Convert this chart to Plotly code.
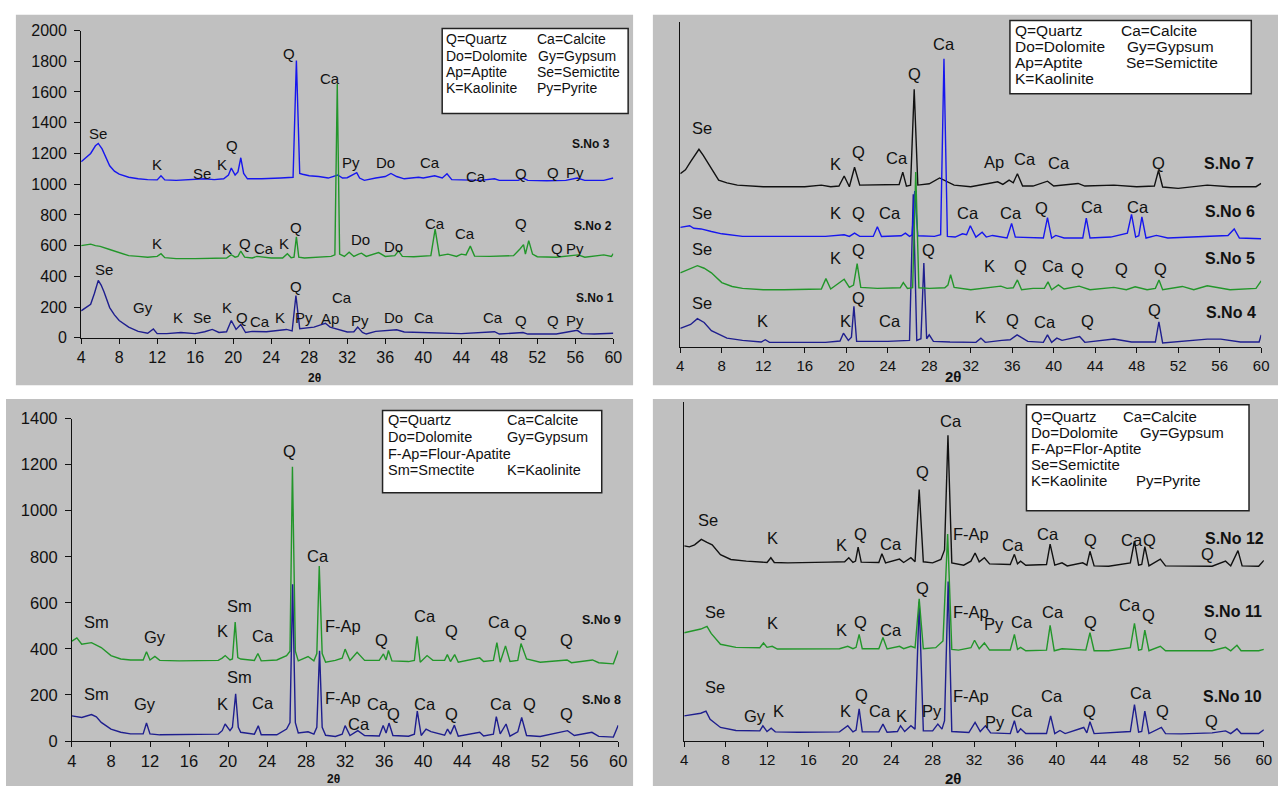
import plotly.graph_objects as go

W, H = 1287, 795

# ---------------- DATA ----------------
# Top-left panel (intensity counts)
tl_sno3 = [(4,1146),(4.5,1170),(5,1200),(5.5,1250),(5.8,1265),(6.2,1230),(6.6,1180),(7.0,1120),(7.5,1085),(8,1065),(9,1045),(10,1035),(11,1030),(12,1028),(12.4,1055),(12.8,1028),(14,1025),(16,1030),(17,1035),(18,1030),(19,1035),(19.5,1060),(19.8,1105),(20.2,1060),(20.5,1080),(20.8,1172),(21.1,1070),(21.5,1035),(23,1035),(25,1040),(26.3,1045),(26.65,1805),(27.0,1070),(27.3,1065),(28,1055),(29,1050),(30,1040),(31,1060),(31.5,1040),(32,1042),(33.0,1075),(33.3,1040),(33.8,1025),(35,1040),(36,1050),(36.6,1070),(37.2,1050),(38,1035),(39.5,1045),(40,1040),(41.2,1055),(42,1040),(42.5,1068),(43,1030),(44,1028),(46,1025),(47.5,1035),(48,1025),(50,1025),(50.5,1040),(51,1025),(53,1022),(55,1025),(56.2,1040),(57,1025),(59,1025),(60,1040)]
tl_sno2 = [(4,600),(4.5,605),(5,610),(5.5,600),(6,595),(7,575),(8,554),(9,535),(10,530),(11,525),(12,530),(12.4,548),(12.8,522),(14,516),(16,516),(18,518),(19.3,520),(19.8,541),(20.2,525),(20.5,530),(20.8,565),(21.2,525),(22,520),(22.5,530),(24,520),(25.2,520),(25.7,548),(26.1,522),(26.4,525),(26.65,658),(26.9,525),(27.5,520),(29,525),(30.3,530),(30.7,540),(30.95,1652),(31.2,545),(31.7,530),(32.2,558),(32.7,530),(33.2,545),(33.5,551),(34,530),(35.3,555),(36,530),(37,535),(37.4,566),(37.8,530),(39,528),(40.8,535),(41.25,707),(41.7,535),(42.6,545),(43.5,530),(44.0,545),(44.5,540),(44.95,597),(45.4,532),(47,530),(49.5,535),(50.2,580),(50.55,607),(50.75,545),(51.1,633),(51.5,545),(52,528),(54,525),(56.3,540),(57,525),(59,540),(59.8,530),(60,548)]
tl_sno1 = [(4,176),(4.5,195),(5,219),(5.4,290),(5.8,374),(6.1,344),(6.4,300),(7,197),(7.5,150),(8,113),(9,70),(10,42),(11,30),(11.6,58),(12,28),(13,28),(14.5,35),(16,28),(17,40),(17.8,55),(18.5,35),(19.3,40),(19.8,113),(20.3,55),(20.8,87),(21.3,35),(22,42),(23.5,40),(25,50),(25.6,55),(26.2,45),(26.6,276),(27,60),(27.5,62),(28.5,70),(29.2,85),(29.7,95),(30.2,70),(31,55),(32,38),(32.7,40),(33.1,70),(33.6,35),(34,25),(35,42),(36,48),(37.2,53),(38,38),(40,35),(42,32),(44,28),(47.5,40),(48,25),(50.5,35),(51,25),(54,25),(56.2,49),(56.7,28),(58,25),(60,30)]

# Top-right panel (relative intensity)
tr_sno7 = [(4,533),(4.5,545),(5,570),(5.5,595),(5.8,608),(6.2,590),(6.8,558),(7.7,513),(8.5,505),(9.5,498),(12,493),(14,493),(16,493),(17.6,498),(18.5,493),(19.3,495),(19.8,526),(20.3,493),(20.8,553),(21.3,498),(23,498),(25.1,500),(25.45,538),(25.8,495),(26.2,498),(26.55,793),(26.9,498),(28,502),(29,520),(30.4,498),(32,493),(34.6,508),(35.1,500),(35.7,513),(36.1,505),(36.5,533),(37,495),(38,495),(39.4,510),(40,495),(42.35,503),(43,495),(45.8,498),(48,493),(49.7,495),(50.1,543),(50.5,492),(52,488),(54.8,498),(57,493),(59.5,493),(60,503)]
tr_sno6 = [(4,368),(4.5,372),(4.9,373),(5.3,365),(6,363),(7,355),(8,348),(10,340),(14,340),(18,340),(19.8,345),(20.3,340),(20.8,350),(21.3,340),(22.6,340),(23.0,370),(23.4,340),(25.3,342),(25.7,350),(26.1,340),(26.35,345),(26.6,480),(26.9,342),(28.5,340),(29.1,345),(29.42,887),(29.75,340),(30.5,338),(31.2,348),(31.6,345),(31.96,373),(32.5,338),(33.1,353),(33.5,338),(34.1,343),(35.5,335),(35.94,380),(36.3,338),(39.0,335),(39.4,398),(39.8,335),(40.2,343),(41,335),(42.8,335),(43.14,396),(43.5,335),(45.5,338),(47.1,350),(47.5,408),(47.9,338),(48.2,342),(48.5,400),(48.9,335),(49.9,343),(51,335),(56.8,343),(57.4,363),(57.9,335),(60,333)]
tr_sno5 = [(4,228),(4.5,235),(5,240),(5.65,250),(6.3,242),(7,228),(8,198),(9,186),(10,180),(12,176),(14,176),(16,176),(17.6,178),(18.04,210),(18.5,178),(19.8,208),(20.3,183),(20.7,190),(21.05,256),(21.4,183),(23,180),(25.2,182),(25.5,198),(25.9,180),(26.4,182),(26.7,538),(27.0,182),(28,180),(29.5,182),(29.8,190),(30.06,222),(30.4,183),(32,176),(34.9,187),(35.5,180),(36.1,182),(36.5,206),(36.9,176),(38,180),(39.1,180),(39.45,200),(39.8,176),(40.45,191),(41,178),(42.45,187),(43.5,176),(45.8,183),(47,176),(47.85,185),(49,176),(49.8,180),(50.15,206),(50.5,176),(52.4,186),(53.5,176),(54.8,188),(57,176),(59.5,180),(60,203)]
tr_sno4 = [(4,57),(4.6,65),(5,69),(5.65,87),(6.3,75),(7,50),(7.5,42),(8.5,27),(10,20),(11.8,15),(12.2,22),(12.6,14),(15,14),(18,14),(19.4,18),(19.73,42),(20.2,20),(20.5,30),(20.74,125),(21.0,17),(22,17),(24,17),(26.1,20),(26.46,470),(26.8,20),(27.2,25),(27.48,258),(27.75,25),(28.0,37),(28.4,17),(30,15),(32.5,14),(32.98,27),(33.4,14),(35,20),(35.8,22),(36.47,37),(37,27),(37.5,17),(39,14),(39.4,37),(39.8,14),(40.3,27),(40.8,20),(42.5,32),(43,14),(45.8,24),(47.5,15),(49.8,15),(50.14,77),(50.5,12),(54.8,24),(56.1,24),(58,15),(59.8,15),(60,37)]

# Bottom-left panel (intensity counts)
bl_sno9 = [(4,434),(4.5,448),(5,420),(6,427),(7,406),(8,371),(9,356),(10,352),(11,352),(11.3,352),(11.64,388),(12.0,352),(12.5,367),(13,350),(15,348),(17,348),(19,350),(19.4,360),(19.71,371),(20.2,352),(20.45,356),(20.73,516),(21.0,362),(21.3,356),(22.7,350),(23.06,380),(23.4,348),(25,352),(26.0,371),(26.35,390),(26.6,1191),(26.9,390),(27.2,348),(28.2,367),(28.8,348),(29.1,380),(29.35,760),(29.65,380),(30,342),(31,350),(31.7,360),(32.0,399),(32.5,350),(33.23,385),(34,350),(35.5,350),(35.93,378),(36.2,352),(36.44,393),(36.8,348),(38.5,345),(39.1,350),(39.38,455),(39.7,342),(40.4,371),(41,350),(42.2,350),(42.48,375),(42.8,345),(43.23,375),(43.6,342),(45.8,361),(46.2,345),(47.2,350),(47.56,427),(47.9,342),(48.44,413),(48.9,345),(49.7,350),(50.03,423),(50.6,356),(52,342),(54.75,352),(55.2,340),(57.36,352),(58,340),(59.5,335),(60,393)]
bl_sno8 = [(4,109),(5,102),(6,115),(6.5,105),(7,81),(8,52),(9,38),(10,31),(11,31),(11.3,31),(11.64,78),(12.0,31),(13,27),(15,27),(17,27),(19,30),(19.4,45),(19.7,74),(20.2,45),(20.45,60),(20.78,205),(21.05,60),(21.3,38),(22.7,30),(23.1,66),(23.4,27),(25,27),(26.0,52),(26.35,80),(26.62,680),(26.9,80),(27.2,35),(28.2,40),(28.8,30),(29.1,60),(29.38,392),(29.65,60),(30,25),(31,20),(31.7,30),(32.0,67),(32.5,24),(33.3,45),(34,24),(35.5,22),(35.9,67),(36.2,35),(36.5,78),(36.9,24),(38.5,21),(39.1,30),(39.4,130),(39.8,24),(40.3,52),(40.8,41),(42.2,25),(42.5,52),(42.8,30),(43.2,69),(43.6,21),(45.8,38),(46.2,22),(47.2,30),(47.5,106),(47.9,31),(48.5,74),(48.9,21),(49.7,40),(50.1,102),(50.6,24),(52,20),(54.8,45),(55.5,24),(57.3,38),(58,20),(59.5,17),(60,69)]

# Bottom-right panel (relative intensity)
br_sno12 = [(4,575),(4.5,572),(5,578),(5.65,594),(6.2,585),(6.7,578),(7.5,549),(8.5,535),(10,530),(11.5,528),(12.0,526),(12.37,540),(12.7,526),(14,525),(16,525),(18,527),(19.5,528),(19.9,540),(20.3,526),(20.55,530),(20.8,571),(21.1,527),(22.8,526),(23.1,552),(23.45,525),(24.8,536),(25.2,526),(25.9,540),(26.3,528),(26.7,741),(27.1,528),(28,525),(28.8,535),(29.15,563),(29.48,901),(29.85,525),(31,518),(31.7,530),(32.1,554),(32.5,528),(33,540),(33.5,522),(35.5,520),(35.9,550),(36.2,522),(36.5,530),(37,518),(39.0,520),(39.35,580),(39.8,518),(40.5,525),(41,516),(42.5,525),(42.9,518),(43.2,559),(43.6,516),(45,515),(47.1,525),(47.5,589),(47.9,518),(48.2,520),(48.5,573),(48.9,516),(50,536),(50.5,516),(52,515),(55,515),(56.3,530),(56.8,516),(57.5,561),(57.9,516),(59.5,515),(60,532)]
br_sno11 = [(4,319),(4.5,322),(5,326),(5.6,330),(6.2,338),(6.6,317),(7.5,285),(9,276),(11.3,275),(11.66,289),(12,276),(12.5,279),(13,271),(16,271),(19,272),(19.8,279),(20.3,272),(20.6,276),(20.9,314),(21.2,272),(22.8,272),(23.2,305),(23.6,271),(24.8,279),(25.2,272),(25.9,279),(26.3,275),(26.7,419),(27.1,272),(28.3,275),(29.0,295),(29.45,610),(29.85,270),(30.5,268),(31.7,275),(32.05,297),(32.5,272),(33,289),(33.5,268),(35.5,268),(35.9,314),(36.2,270),(36.5,276),(37,266),(39.0,268),(39.35,341),(39.75,266),(40.5,272),(42.8,268),(43.2,319),(43.6,266),(45,266),(47.1,275),(47.5,347),(47.9,268),(48.2,270),(48.5,327),(48.9,266),(50,279),(50.5,266),(52,266),(55,266),(56.3,276),(56.8,266),(57.4,282),(57.8,266),(59.5,266),(60,270)]
br_sno10 = [(4,74),(4.5,76),(5,79),(5.6,82),(6.1,88),(6.5,64),(7.5,40),(9,31),(11.3,30),(11.6,45),(12,28),(12.4,38),(12.8,27),(15,26),(19,27),(19.8,45),(20.3,27),(20.6,32),(20.9,95),(21.2,27),(22.8,27),(23.2,50),(23.6,26),(24.6,28),(24.9,45),(25.3,28),(25.9,45),(26.3,35),(26.7,410),(27.1,30),(28,30),(28.5,50),(28.9,35),(29.15,60),(29.5,470),(29.85,28),(31.5,25),(32.1,55),(32.6,28),(33.1,45),(33.6,24),(35.5,22),(35.9,60),(36.2,24),(36.5,36),(37,22),(39.0,22),(39.4,74),(39.8,22),(40.3,31),(40.8,22),(42.6,40),(42.9,24),(43.2,57),(43.6,22),(45.8,26),(47.1,28),(47.5,107),(47.9,26),(48.2,28),(48.5,88),(48.9,22),(50.1,40),(50.5,22),(52,21),(55,24),(56.3,30),(56.8,22),(57.4,36),(57.8,22),(59.5,22),(60,33)]

x_ticks = [4, 8, 12, 16, 20, 24, 28, 32, 36, 40, 44, 48, 52, 56, 60]

# Peak labels (text, 2theta, intensity)
tl_labels = [("Q",25.85,1853),("Ca",30.2,1688),("Se",5.8,1327),("K",12.0,1125),("Se",16.7,1068),("K",18.8,1125),("Q",19.9,1253),("Py",32.4,1142),("Do",36.05,1138),("Ca",40.66,1142),("Ca",45.6,1047),("Q",50.3,1068),("Q",53.7,1078),("Py",56.0,1078),
             ("K",12.0,616),("K",19.3,580),("Q",21.2,616),("Ca",23.2,580),("K",25.3,616),("Q",26.6,718),("Do",33.4,643),("Do",36.9,597),("Ca",41.25,745),("Ca",44.4,682),("Q",50.3,745),("Q",54.1,580),("Py",56.0,580),
             ("Se",6.4,446),("Gy",10.55,197),("K",14.2,134),("Se",16.7,134),("K",19.3,197),("Q",20.9,134),("Ca",22.8,106),("K",24.95,134),("Q",26.6,336),("Py",27.5,134),("Ap",30.15,127),("Ca",31.5,265),("Py",33.3,113),("Do",36.9,134),("Ca",40.1,134),("Ca",47.3,134),("Q",50.3,113),("Q",53.7,113),("Py",56.0,113)]
tl_names = [("S.No 3",57.7,1263),("S.No 2",57.9,728),("S.No 1",58.1,261)]

tr_labels = [("Se",6.06,673),("K",19.0,563),("Q",21.16,601),("Ca",24.93,580),("Q",26.56,841),("Ca",29.42,931),("Ap",34.2,568),("Ca",37.2,578),("Ca",40.5,566),("Q",50.07,566),
             ("Se",6.06,413),("K",19.0,413),("Q",21.16,413),("Ca",24.24,413),("Ca",31.7,413),("Ca",35.84,413),("Q",38.85,428),("Ca",43.7,430),("Ca",48.16,430),
             ("Se",6.06,300),("K",19.0,275),("Q",21.16,298),("Q",27.9,298),("K",33.77,250),("Q",36.8,250),("Ca",39.97,250),("Q",42.26,240),("Q",46.5,240),("Q",50.3,240),
             ("Se",6.06,134),("K",11.94,79),("K",19.9,79),("Q",21.16,149),("Ca",24.24,79),("K",32.9,92),("Q",36.0,82),("Ca",39.2,77),("Q",43.3,79),("Q",49.7,112)]
tr_names = [("S.No 7",56.87,563),("S.No 6",56.97,418),("S.No 5",56.97,273),("S.No 4",57.13,107)]

bl_labels = [("Sm",6.53,516),("Gy",12.52,453),("K",19.44,477),("Sm",21.2,585),("Ca",23.6,455),("Q",26.27,1257),("Ca",29.25,805),("F-Ap",31.78,498),("Q",35.77,437),("Ca",40.16,543),("Q",42.86,479),("Ca",47.76,516),("Q",49.93,479),("Q",54.65,437),
             ("Sm",6.53,205),("Gy",11.5,162),("K",19.44,162),("Sm",21.2,279),("Ca",23.6,165),("F-Ap",31.78,187),("Ca",35.33,162),("Ca",33.46,73),("Q",36.95,116),("Ca",40.16,162),("Q",42.86,116),("Ca",48.0,162),("Q",50.94,162),("Q",54.65,116)]
bl_names = [("S.No 9",58.3,526),("S.No 8",58.3,180)]

br_labels = [("Se",6.32,650),("K",12.54,597),("K",19.22,578),("Q",21.03,611),("Ca",24.0,581),("Q",26.98,794),("Ca",29.8,942),("F-Ap",31.68,611),("Ca",35.75,578),("Ca",39.1,611),("Q",43.24,592),("Ca",47.28,592),("Q",48.94,592),("Q",54.6,550),
             ("Se",6.93,381),("K",12.54,348),("K",19.22,328),("Q",21.03,350),("Ca",24.0,328),("Q",26.98,450),("F-Ap",31.68,381),("Py",33.97,345),("Ca",36.6,350),("Ca",39.63,379),("Q",43.24,350),("Ca",47.02,400),("Q",48.81,371),("Q",54.8,316),
             ("Se",6.93,158),("Gy",10.85,74),("K",13.1,88),("K",19.6,88),("Q",21.1,136),("Ca",22.9,88),("K",24.96,74),("Py",27.98,88),("F-Ap",31.68,132),("Py",34.06,57),("Ca",36.6,88),("Ca",39.57,132),("Q",43.14,88),("Ca",48.17,143),("Q",50.2,88),("Q",54.9,60)]
br_names = [("S.No 12",57.2,596),("S.No 11",57.0,381),("S.No 10",57.0,132)]

# Legend box texts (text, left px, centre px)
tl_key = [("Q=Quartz",444,31),("Ca=Calcite",536,31),("Do=Dolomite",444,48),("Gy=Gypsum",537,48),("Ap=Aptite",444,64.3),("Se=Semictite",536,64.3),("K=Kaolinite",444,81),("Py=Pyrite",536,81)]
tr_key = [("Q=Quartz",1019,21.7),("Ca=Calcite",1126.7,21.7),("Do=Dolomite",1019,38.3),("Gy=Gypsum",1132.7,38.3),("Ap=Aptite",1019,54.3),("Se=Semictite",1131.7,54.3),("K=Kaolinite",1019,70.7)]
bl_key = [("Q=Quartz",385,421),("Ca=Calcite",505,421),("Do=Dolomite",385,438.3),("Gy=Gypsum",505,438.3),("F-Ap=Flour-Apatite",385,455),("Sm=Smectite",385,471.7),("K=Kaolinite",505,471.7)]
br_key = [("Q=Quartz",1035,416.7),("Ca=Calcite",1128.3,416.7),("Do=Dolomite",1035,433.3),("Gy=Gypsum",1145,433.3),("F-Ap=Flor-Aptite",1035,450),("Se=Semictite",1035,466),("K=Kaolinite",1035,482.7),("Py=Pyrite",1141.7,482.7)]

# ---------------- STYLE ----------------
BLUE, GREEN, NAVY, BLACK = "#1616ee", "#22962a", "#1e1e8e", "#111111"
GRAY = "#c0c0c0"
FONT = "Liberation Sans, Arial, sans-serif"

def px(x):
    return x / W

def py(y):
    return 1 - y / H

fig = go.Figure()

def add_series(pairs, color, ax):
    xs = [p[0] for p in pairs]
    ys = [p[1] for p in pairs]
    fig.add_trace(go.Scatter(x=xs, y=ys, mode="lines", line=dict(color=color, width=1.4),
                             xaxis="x" + ax, yaxis="y" + ax, showlegend=False, hoverinfo="skip"))

add_series(tl_sno3, BLUE, "")
add_series(tl_sno1, NAVY, "")
add_series(tl_sno2, GREEN, "")
add_series(tr_sno7, BLACK, "2")
add_series(tr_sno4, NAVY, "2")
add_series(tr_sno6, BLUE, "2")
add_series(tr_sno5, GREEN, "2")
add_series(bl_sno9, GREEN, "3")
add_series(bl_sno8, NAVY, "3")
add_series(br_sno10, NAVY, "4")
add_series(br_sno11, GREEN, "4")
add_series(br_sno12, BLACK, "4")

shapes = []
for (x0, y0, x1, y1) in [(11, 6, 635, 385), (655, 6, 1287, 385), (1, 399, 635, 795), (655, 399, 1287, 795)]:
    shapes.append(dict(type="rect", xref="paper", yref="paper", x0=px(x0), x1=px(x1), y0=py(y1), y1=py(y0),
                       fillcolor=GRAY, line=dict(width=0), layer="below"))
for (x0, y0, x1, y1) in [(442, 20, 630, 107), (1016, 11.7, 1260, 86.7), (381.7, 410.7, 603.3, 495), (1032.7, 405, 1257.7, 513.3)]:
    shapes.append(dict(type="rect", xref="paper", yref="paper", x0=px(x0), x1=px(x1), y0=py(y1), y1=py(y0),
                       fillcolor="white", line=dict(width=1.5, color="#222"), layer="above"))

ann = []
def add_labels(labels, ax, size, bold=False):
    for t, x, y in labels:
        ann.append(dict(text=("<b>%s</b>" % t) if bold else t, x=x, y=y, xref="x" + ax, yref="y" + ax,
                        showarrow=False, xanchor="center", yanchor="middle",
                        font=dict(family=FONT, size=size, color="#111")))

add_labels(tl_labels, "", 15)
add_labels(tl_names, "", 12, True)
add_labels(tr_labels, "2", 16.5)
add_labels(tr_names, "2", 16, True)
add_labels(bl_labels, "3", 16.5)
add_labels(bl_names, "3", 12.5, True)
add_labels(br_labels, "4", 16.5)
add_labels(br_names, "4", 16, True)

def add_key(items, size):
    for t, x, y in items:
        ann.append(dict(text=t, x=px(x), y=py(y), xref="paper", yref="paper", showarrow=False,
                        xanchor="left", yanchor="middle", font=dict(family=FONT, size=size, color="#111")))

add_key(tl_key, 14)
add_key(tr_key, 15.5)
add_key(bl_key, 14.5)
add_key(br_key, 15)

for (x, y, s) in [(313, 378, 12), (958, 376, 15), (331.7, 788, 12), (958.3, 787, 15)]:
    ann.append(dict(text="<b>2θ</b>", x=px(x), y=py(y), xref="paper", yref="paper", showarrow=False,
                    xanchor="center", yanchor="middle", font=dict(family=FONT, size=s, color="#111")))

def xax(domain, anchor, size):
    return dict(domain=domain, anchor=anchor, range=[4, 60], tickvals=x_ticks, ticks="outside", ticklen=5,
                tickcolor="#111", showline=True, linecolor="#111", linewidth=1.2, showgrid=False, zeroline=False,
                tickfont=dict(family=FONT, size=size, color="#111"))

def yax(domain, anchor, rng, dtick, labels, size=16):
    d = dict(domain=domain, anchor=anchor, range=rng, showline=True, linecolor="#111", linewidth=1.2,
             showgrid=False, zeroline=False)
    if labels:
        d.update(ticks="outside", ticklen=6, tickcolor="#111", dtick=dtick, ticklabelstandoff=4,
                 tickfont=dict(family=FONT, size=size, color="#111"))
    else:
        d.update(ticks="", showticklabels=False)
    return d

fig.update_layout(
    width=W, height=H, margin=dict(l=0, r=0, t=0, b=0),
    paper_bgcolor="white", plot_bgcolor="rgba(0,0,0,0)",
    xaxis=xax([px(77), px(615)], "y", 16),
    yaxis=yax([py(336.5), py(22)], "x", [0, 2000], 200, True, 16),
    xaxis2=xax([px(682.7), px(1270)], "y2", 15),
    yaxis2=yax([py(345.7), py(13.3)], "x2", [0, 1000], None, False),
    xaxis3=xax([px(67.7), px(620)], "y3", 16.5),
    yaxis3=yax([py(749), py(419)], "x3", [0, 1400], 200, True, 16.5),
    xaxis4=xax([px(686.7), px(1272.7)], "y4", 15),
    yaxis4=yax([py(749), py(401.7)], "x4", [0, 1000], None, False),
    shapes=shapes, annotations=ann, showlegend=False,
)

fig.write_html("out.html")
